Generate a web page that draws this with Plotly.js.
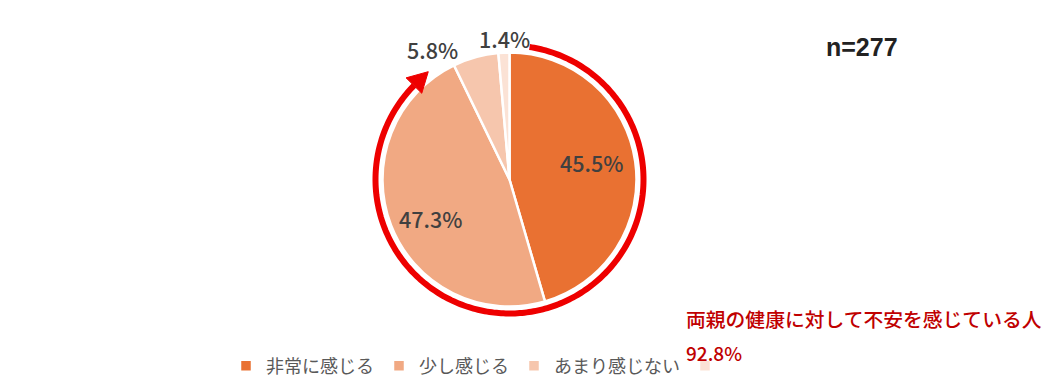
<!DOCTYPE html>
<html><head><meta charset="utf-8">
<script src="https://cdn.plot.ly/plotly-3.0.1.min.js"></script>
<style>html,body{margin:0;padding:0;background:#fff;}#chart{width:1054px;height:386px;}</style>
</head><body><div id="chart"></div>
<script>
const categories = ['非常に感じる', '少し感じる', 'あまり感じない', ' '];
const values = [45.5, 47.3, 5.8, 1.4];
const colors = ['#E97132', '#F1A983', '#F6C6AD', '#FBE2D5'];
const sampleLabel = 'n=277';
const calloutTitle = '両親の健康に対して不安を感じている人';
const calloutValue = '92.8%';

const W = 1054, H = 386;
const px = x => x / W, py = y => 1 - y / H;
const cx = 509.5, cy = 179.5, R = 127;

// label positions (pixels) for each slice
const labelPos = [[591, 163], [430, 218], [432, 49], [504, 38]];

const annotations = values.map((v, i) => ({
  xref: 'paper', yref: 'paper', x: px(labelPos[i][0]), y: py(labelPos[i][1]),
  text: v.toFixed(1) + '%', showarrow: false, xanchor: 'center', yanchor: 'middle',
  font: {family: 'Noto Sans CJK JP', size: 21.5, color: '#404040', weight: 500}
}));
annotations.push({xref:'paper', yref:'paper', x: px(862), y: py(47), text: sampleLabel, showarrow:false,
  xanchor:'center', yanchor:'middle', font:{family:'Liberation Sans, Arial', size:25, color:'#222', weight:'bold'}});
annotations.push({xref:'paper', yref:'paper', x: px(684), y: py(318), text: calloutTitle, showarrow:false,
  xanchor:'left', yanchor:'middle', font:{family:'Noto Sans CJK JP', size:19.8, color:'#C00000', weight:500}});
annotations.push({xref:'paper', yref:'paper', x: px(684), y: py(352), text: calloutValue, showarrow:false,
  xanchor:'left', yanchor:'middle', font:{family:'Noto Sans CJK JP', size:19, color:'#C00000', weight:500}});

// red circular arrow
const rr = 134, a0 = 8.6, a1 = 315, tipA = 323, headHalf = 11;
const pt = (a, r) => { const t = a * Math.PI / 180; return [cx + r * Math.sin(t), cy - r * Math.cos(t)]; };
let d = '';
for (let a = a0; a <= a1 + 1e-9; a += 1) {
  const p = pt(a, rr);
  d += (d ? ' L' : 'M') + px(p[0]).toFixed(5) + ',' + py(p[1]).toFixed(5);
}
const b1 = pt(a1 - 0.5, rr - headHalf), b2 = pt(a1 - 0.5, rr + headHalf), tp = pt(tipA, rr + 1);
const head = 'M' + px(b1[0]) + ',' + py(b1[1]) + ' L' + px(tp[0]) + ',' + py(tp[1]) + ' L' + px(b2[0]) + ',' + py(b2[1]) + ' Z';

const shapes = [
  {type:'path', xref:'paper', yref:'paper', path: d, line:{color:'#EE0000', width:6}},
  {type:'path', xref:'paper', yref:'paper', path: head, fillcolor:'#EE0000', line:{color:'#EE0000', width:1}}
];

const data = [{
  type: 'pie', labels: categories, values: values, sort: false, direction: 'clockwise', rotation: 0,
  marker: {colors: colors, line: {color: '#FFFFFF', width: 2.5}},
  textinfo: 'none', hoverinfo: 'label+percent',
  domain: {x: [px(cx - R), px(cx + R)], y: [py(cy + R), py(cy - R)]}
}];

const layout = {
  width: W, height: H, margin: {l:0, r:0, t:0, b:0}, paper_bgcolor:'#fff',
  showlegend: true,
  legend: {orientation:'h', x: px(226), y: py(366), xanchor:'left', yanchor:'middle', tracegroupgap: 0,
    font:{family:'Noto Sans CJK JP', size:18, color:'#595959'}, itemclick:false, itemdoubleclick:false},
  annotations: annotations, shapes: shapes
};
Plotly.newPlot('chart', data, layout, {displayModeBar:false, staticPlot:true});
</script></body></html>
